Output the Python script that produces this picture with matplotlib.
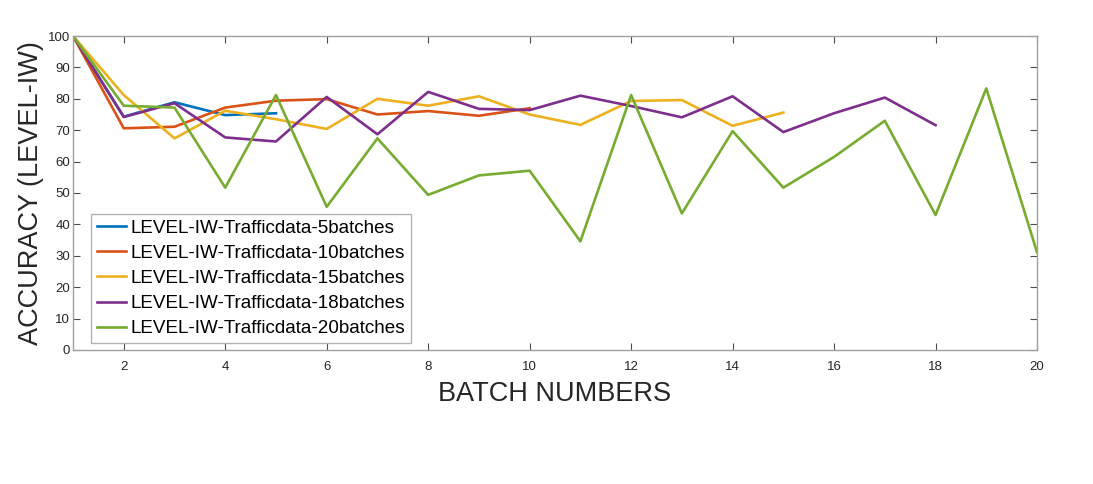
import numpy as np
import matplotlib
matplotlib.use('Agg')
import matplotlib.pyplot as plt

plt.rcParams['font.family'] = ['Liberation Sans', 'DejaVu Sans']

acc_5 = [100, 74.3, 78.9, 74.8, 75.4]
acc_10 = [100, 70.6, 71.1, 77.2, 79.4, 79.9, 75.0, 76.1, 74.6, 77.0]
acc_15 = [100, 81.2, 67.4, 76.2, 73.5, 70.4, 80.0, 77.8, 80.8, 75.0,
          71.7, 79.3, 79.6, 71.4, 75.6]
acc_18 = [100, 74.2, 78.6, 67.7, 66.4, 80.6, 68.7, 82.2, 76.8, 76.4,
          81.0, 77.7, 74.1, 80.8, 69.4, 75.4, 80.4, 71.6]
acc_20 = [100, 77.8, 77.2, 51.7, 81.2, 45.6, 67.4, 49.4, 55.6, 57.1,
          34.6, 81.2, 43.5, 69.7, 51.7, 61.5, 73.0, 43.0, 83.3, 31.1]

series = [acc_5, acc_10, acc_15, acc_18, acc_20]
labels = ['LEVEL-IW-Trafficdata-5batches', 'LEVEL-IW-Trafficdata-10batches',
          'LEVEL-IW-Trafficdata-15batches', 'LEVEL-IW-Trafficdata-18batches',
          'LEVEL-IW-Trafficdata-20batches']
colors = ['#0072BD', '#D95319', '#EDB120', '#7E2F8E', '#77AC30']

fig = plt.figure(figsize=(10.93, 4.84), dpi=100)
ax = fig.add_axes([0.0668, 0.2769, 0.882, 0.6487])

for vals, lab, c in zip(series, labels, colors):
    x = np.arange(1, len(vals) + 1)
    ax.plot(x, vals, color=c, linewidth=1.9, label=lab)

ax.set_xlim(1, 20)
ax.set_ylim(0, 100)
ax.set_xticks(range(2, 21, 2))
ax.set_yticks(range(0, 101, 10))
ax.tick_params(direction='in', length=5, width=0.8, colors='#4d4d4d',
               labelsize=9.5, labelcolor='#262626', top=True, right=True)
ax.tick_params(axis='y', pad=2)
ax.tick_params(axis='x', pad=8)
for s in ax.spines.values():
    s.set_color('#a0a0a0')
    s.set_linewidth(1.0)

ax.set_xlabel('BATCH NUMBERS', fontsize=19.5, color='#262626', labelpad=6)
ax.set_ylabel('ACCURACY (LEVEL-IW)', fontsize=19.5, color='#262626', labelpad=3)

leg = ax.legend(loc='lower left', fontsize=13.6, frameon=True, fancybox=False,
                handlelength=1.55, handletextpad=0.25, borderpad=0.3,
                labelspacing=0.42, borderaxespad=0,
                bbox_to_anchor=(0.0187, 0.022))
leg.get_frame().set_edgecolor('#a0a0a0')
leg.get_frame().set_linewidth(1.0)

fig.savefig('out.png', dpi=100)
